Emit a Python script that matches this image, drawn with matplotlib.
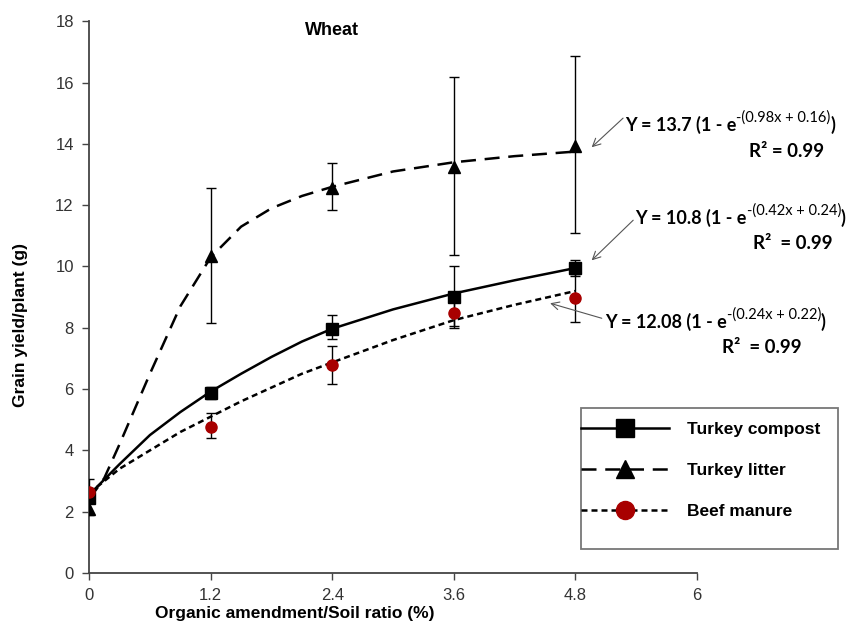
import numpy as np
import matplotlib
matplotlib.use("Agg")
import matplotlib.pyplot as plt
from matplotlib.patches import Rectangle

# measured points (mean and error bars)
ratio = [0, 1.2, 2.4, 3.6, 4.8]

compost = [2.45, 5.88, 7.97, 9.0, 9.95]
compost_lo = [0.15, 0.2, 0.35, 1.0, 0.25]
compost_hi = [0.6, 0.2, 0.45, 1.0, 0.25]

litter = [2.1, 10.35, 12.55, 13.25, 13.92]
litter_lo = [0.22, 2.18, 0.7, 2.88, 2.82]
litter_hi = [0.3, 2.22, 0.83, 2.93, 2.94]

manure = [2.63, 4.77, 6.77, 8.47, 8.98]
manure_lo = [0.15, 0.38, 0.62, 0.4, 0.79]
manure_hi = [0.15, 0.45, 0.64, 0.4, 0.79]

# fitted curves
fit_x = [0, 0.15, 0.3, 0.6, 0.9, 1.2, 1.5, 1.8, 2.1, 2.4, 3.0, 3.6, 4.2, 4.8]
fit_compost = [2.55, 3.05, 3.55, 4.5, 5.25, 5.92, 6.5, 7.05, 7.55, 7.97, 8.6, 9.12, 9.55, 9.95]
fit_litter = [2.4, 3.1, 4.2, 6.5, 8.7, 10.3, 11.3, 11.9, 12.3, 12.6, 13.1, 13.4, 13.6, 13.75]
fit_manure = [2.6, 3.0, 3.4, 4.0, 4.6, 5.1, 5.6, 6.05, 6.5, 6.87, 7.6, 8.25, 8.75, 9.2]

labels = ["Turkey compost", "Turkey litter", "Beef manure"]
eq_main = ["Y = 13.7 (1 - e", "Y = 10.8 (1 - e", "Y = 12.08 (1 - e"]
eq_sup = ["-(0.98x + 0.16)", "-(0.42x + 0.24)", "-(0.24x + 0.22)"]
eq_r2 = ["R\u00b2 = 0.99", "R\u00b2  = 0.99", "R\u00b2  = 0.99"]

xticks = [0, 1.2, 2.4, 3.6, 4.8, 6]
red = "#A80000"

plt.rcParams["font.family"] = ["Liberation Sans", "DejaVu Sans"]

fig = plt.figure(figsize=(8.49, 6.26), dpi=100)
ax = fig.add_axes([0.105, 0.0847, 0.716, 0.8813])

# curves
ax.plot(fit_x, fit_compost, color="black", lw=1.8, zorder=2)
ax.plot(fit_x, fit_litter, color="black", lw=1.8, dashes=(6, 3.5), zorder=2)
ax.plot(fit_x, fit_manure, color="black", lw=1.8, dashes=(2.4, 1.6), zorder=2)

# points with error bars
ax.errorbar(ratio, compost, yerr=[compost_lo, compost_hi], fmt="s", color="black",
            ms=8.5, ecolor="black", elinewidth=1, capsize=3.5, zorder=3)
ax.errorbar(ratio, litter, yerr=[litter_lo, litter_hi], fmt="^", color="black",
            ms=9, ecolor="black", elinewidth=1, capsize=3.5, zorder=3)
ax.errorbar(ratio, manure, yerr=[manure_lo, manure_hi], fmt="o", color=red,
            ms=8, ecolor="black", elinewidth=1, capsize=3.5, zorder=3)

ax.set_xlim(0, 6)
ax.set_ylim(0, 18)
ax.set_xticks(xticks)
ax.set_xticklabels(["0", "1.2", "2.4", "3.6", "4.8", "6"])
ax.set_yticks(range(0, 19, 2))
for s in ["top", "right"]:
    ax.spines[s].set_visible(False)
for s in ["left", "bottom"]:
    ax.spines[s].set_linewidth(1.3)
    ax.spines[s].set_color("#444444")
ax.tick_params(direction="out", length=5, width=1, colors="#444444",
               labelsize=12, labelcolor="#333333", pad=6)

ax.set_xlabel("Organic amendment/Soil ratio (%)", fontsize=12.5, fontweight="bold")
ax.set_ylabel("Grain yield/plant (g)", fontsize=12.5, fontweight="bold")
ax.xaxis.set_label_coords(0.338, -0.06)
ax.yaxis.set_label_coords(-0.1, 0.449)
ax.text(2.4, 17.7, "Wheat", fontsize=13, fontweight="bold", ha="center", va="center")

# equations with arrows
eq_pos = [(5.29, 14.61), (5.39, 11.57), (5.09, 8.18)]
r2_pos = [(6.51, 13.75), (6.55, 10.75), (6.25, 7.35)]
arr_from = [(5.27, 14.84), (5.37, 11.51), (5.06, 8.31)]
arr_to = [(4.96, 13.89), (4.96, 10.2), (4.55, 8.8)]
for i in range(3):
    t1 = ax.text(*eq_pos[i], eq_main[i], fontsize=13, fontweight="bold",
                 family="Lato", va="center", ha="left")
    t2 = ax.annotate(eq_sup[i], xy=(1, 0.52), xycoords=t1, fontsize=10.5,
                     family="Lato", va="bottom", ha="left")
    ax.annotate(")", xy=(1, 0), xycoords=(t2, t1), fontsize=13, fontweight="bold",
                family="Lato", va="bottom", ha="left")
    ax.text(*r2_pos[i], eq_r2[i], fontsize=13.5, fontweight="bold", family="Lato",
            va="center", ha="left")
    ax.annotate("", xy=arr_to[i], xytext=arr_from[i],
                arrowprops=dict(arrowstyle="->", color="#555555", lw=0.8,
                                shrinkA=0, shrinkB=0, mutation_scale=14),
                annotation_clip=False)

# legend
h1, = ax.plot([], [], color="black", lw=1.8, marker="s", ms=13)
h2, = ax.plot([], [], color="black", lw=1.8, dashes=(6, 3.5), marker="^", ms=13)
h3, = ax.plot([], [], color="black", lw=1.8, dashes=(2.4, 1.6), marker="o", ms=13,
              mfc=red, mec=red)
leg = fig.legend([h1, h2, h3], labels, loc="upper left", bbox_to_anchor=(0.6843, 0.326),
                 handlelength=5.07, labelspacing=1.5, borderpad=0, handletextpad=1.04,
                 frameon=False, prop={"weight": "bold", "size": 12.5}, borderaxespad=0)
fig.patches.append(Rectangle((581 / 849, 1 - 549 / 626), 257 / 849, 141 / 626,
                             transform=fig.transFigure, fill=False,
                             edgecolor="#777777", lw=1.3))

fig.savefig("out.png", dpi=100)
